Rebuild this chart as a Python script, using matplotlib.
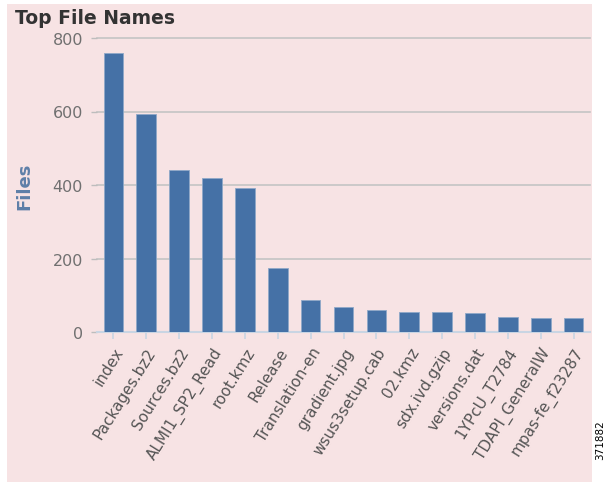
import matplotlib
matplotlib.use("Agg")
import matplotlib.pyplot as plt
from matplotlib.patches import Rectangle

categories = ["index", "Packages.bz2", "Sources.bz2", "ALMI1_SP2_Read", "root.kmz",
              "Release", "Translation-en", "gradient.jpg", "wsus3setup.cab", "02.kmz",
              "sdx.ivd.gzip", "versions.dat", "1YPcU_T2784", "TDAPI_GeneralW", "mpas-fe_f23287"]
files = [759, 592, 440, 418, 393, 173, 86, 69, 59, 55, 55, 51, 42, 37, 37]
yticks = [0, 200, 400, 600, 800]

W, H = 608, 485
fig = plt.figure(figsize=(W / 100, H / 100), dpi=100, facecolor="white")
pink = "#F7E3E4"
bg = Rectangle((7 / W, 1 - 483 / H), (592 - 7) / W, (483 - 5) / H,
               transform=fig.transFigure, facecolor=pink, edgecolor="none", zorder=-10)
fig.add_artist(bg)

ax = fig.add_axes([97 / W, 1 - 333 / H, (590 - 97) / W, (333 - 39) / H])
ax.set_zorder(1)
ax.set_facecolor("none")
x = list(range(len(categories)))
ax.bar(x, files, width=0.6, color="#4571A6", edgecolor="#8FA8C8", linewidth=0.6, zorder=3)
ax.set_xlim(-0.5, len(categories) - 0.5)
ax.set_ylim(0, 800)
ax.set_yticks(yticks)
ax.set_yticklabels([str(v) for v in yticks], color="#707070", fontsize=11.5)
for v in yticks[1:]:
    ax.axhline(v, color="#C4C4C4", linewidth=1.2, zorder=1, clip_on=False)
ax.set_xticks(x)
ax.set_xticklabels(categories, rotation=58, ha="right", rotation_mode="anchor",
                   color="#555555", fontsize=11)
for s in ["top", "right", "left"]:
    ax.spines[s].set_visible(False)
ax.spines["bottom"].set_color("#C9D5E3")
ax.spines["bottom"].set_linewidth(1.5)
ax.tick_params(axis="x", length=5, width=1.2, color="#C9D5E3", pad=4)
ax.tick_params(axis="y", length=4, width=1, color="#BDBDBD", pad=6)
ax.set_ylabel("Files", color="#5E7FA8", fontsize=13, fontweight="bold", labelpad=14)

fig.text(15 / W, 1 - 18 / H, "Top File Names", fontsize=13.5, fontweight="bold",
         color="#333333", va="center", ha="left")
fig.text(600 / W, 1 - 440 / H, "371882", rotation=90, fontsize=7.5, color="black",
         va="center", ha="center")

fig.savefig("out.png", dpi=100, facecolor="white")
